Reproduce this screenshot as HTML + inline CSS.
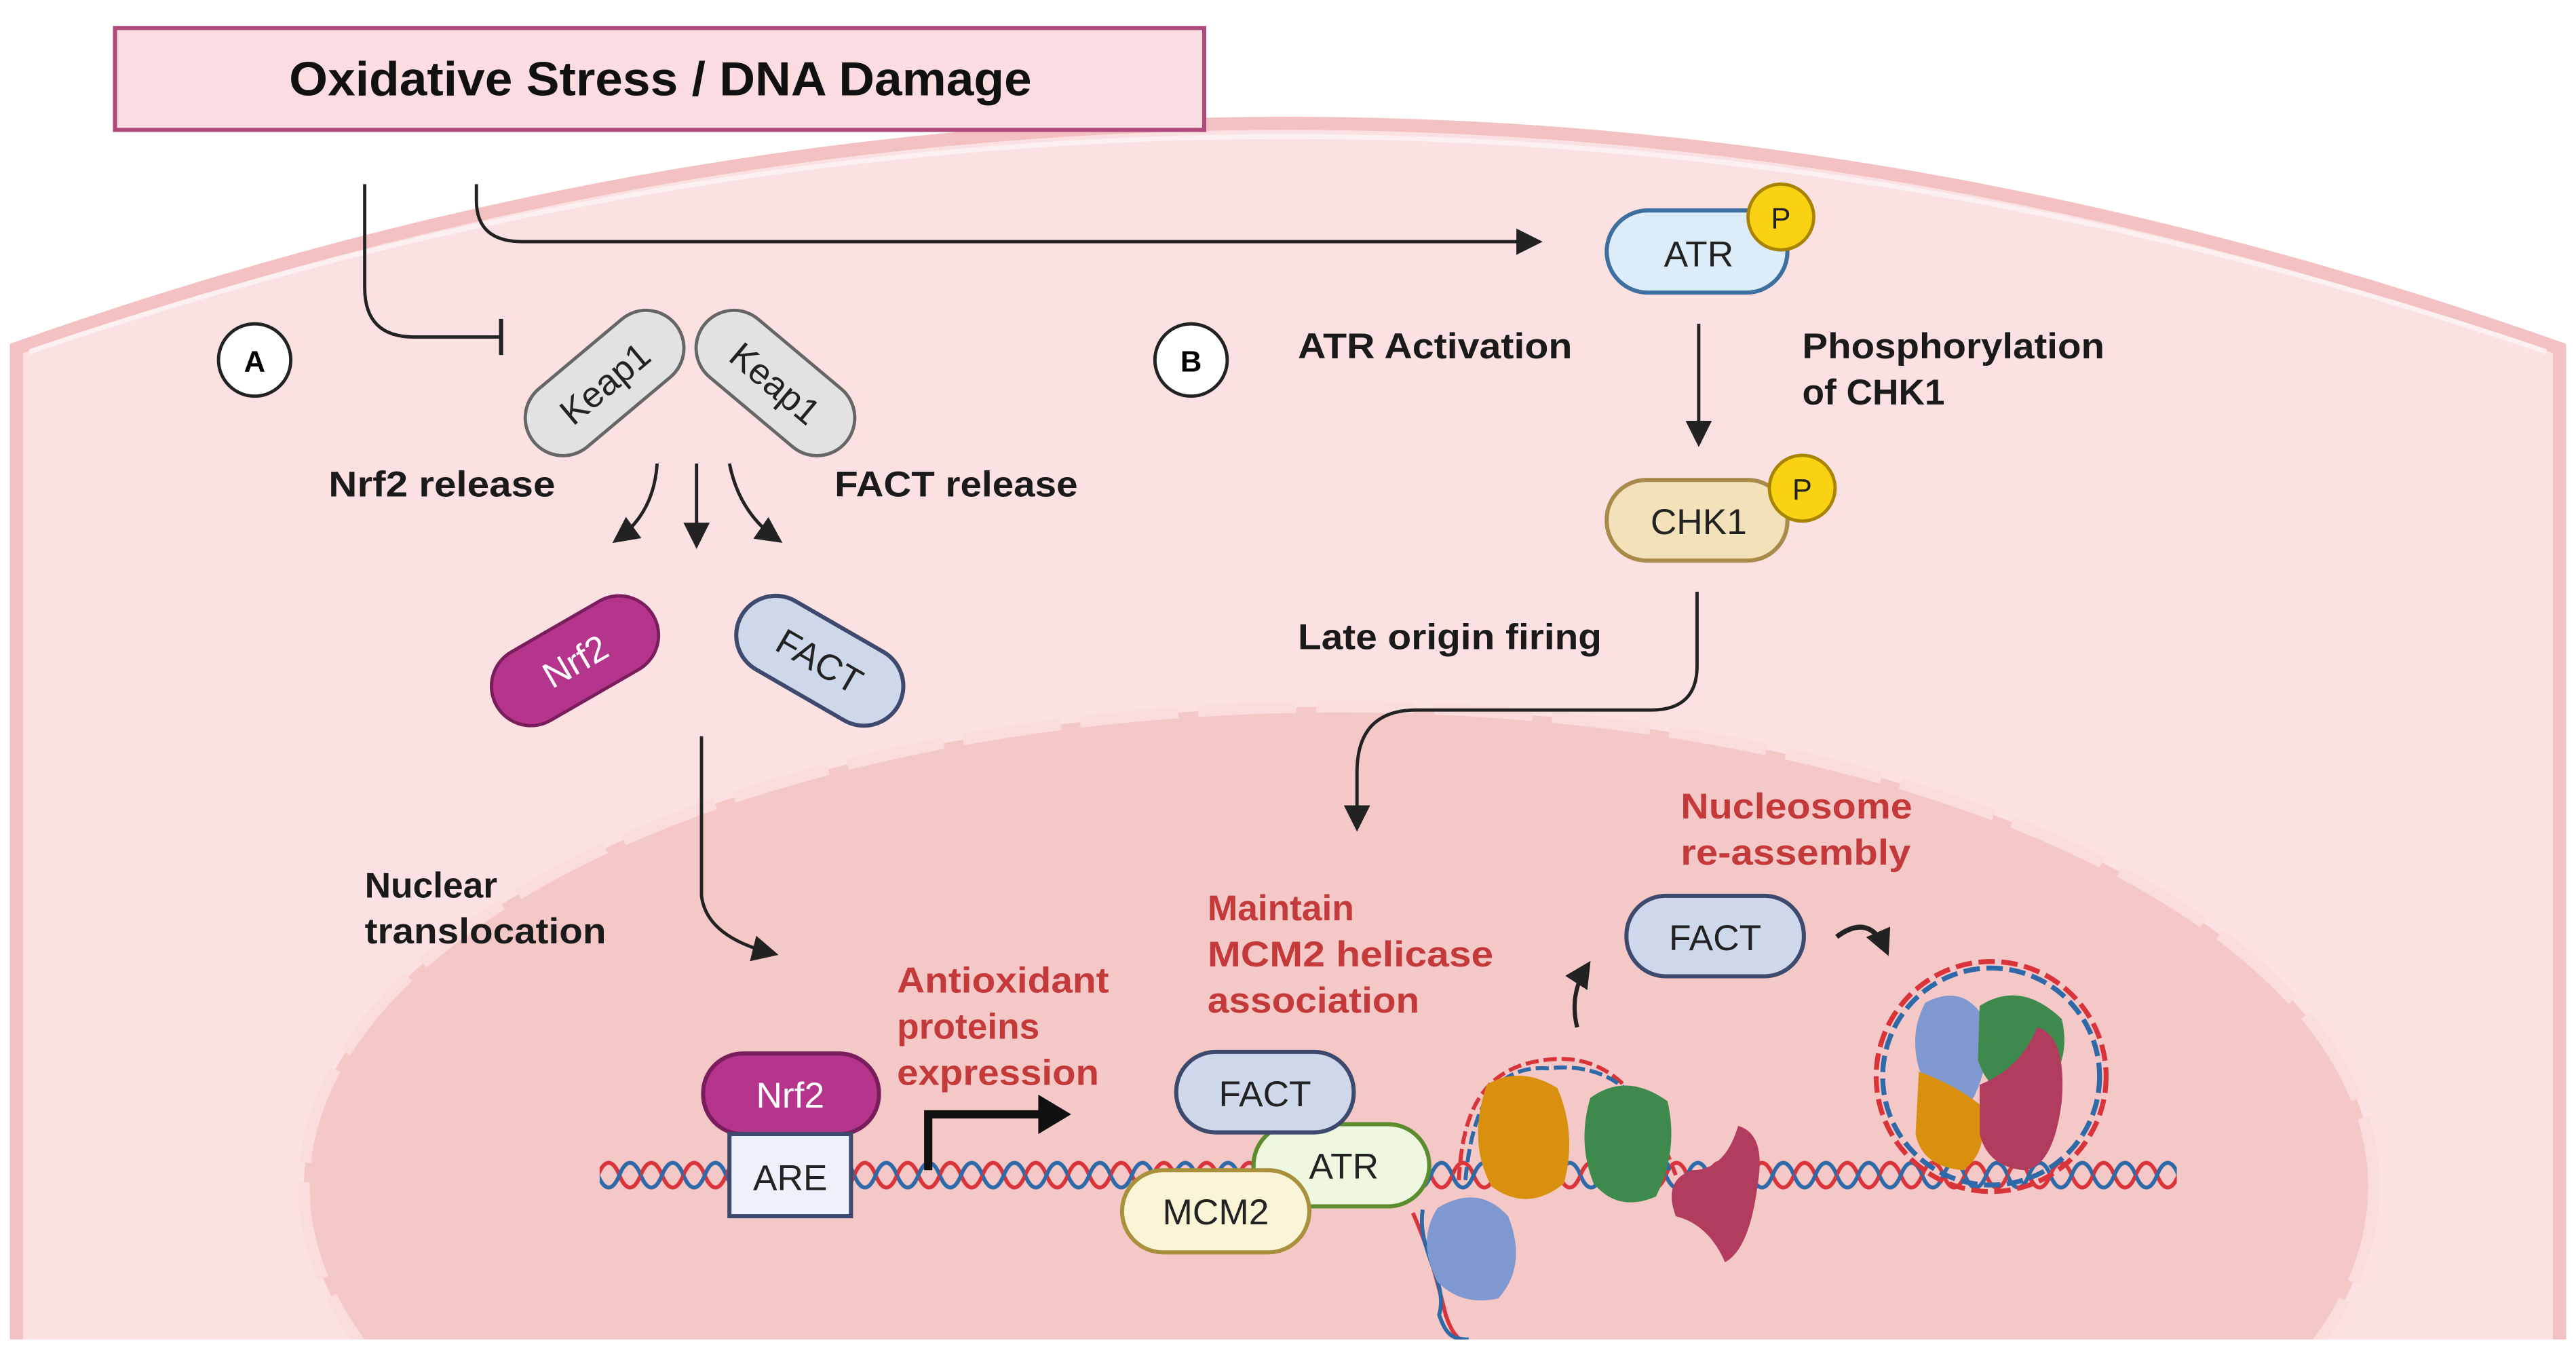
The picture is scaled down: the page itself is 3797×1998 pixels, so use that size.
<!DOCTYPE html>
<html><head><meta charset="utf-8"><style>html,body{margin:0;padding:0;background:#fff;overflow:hidden;width:3797px;height:1998px}svg{display:block}text{font-family:"Liberation Sans",sans-serif}</style></head><body>
<svg width="3797" height="1998" viewBox="0 0 1568 825" xmlns="http://www.w3.org/2000/svg">
<defs>
<pattern id="dna" patternUnits="userSpaceOnUse" x="0" y="705" width="26" height="20">
<path d="M0,10 C4,0 9,0 13,10 C17,20 22,20 26,10" fill="none" stroke="#d8343a" stroke-width="2.4"/>
<path d="M0,10 C4,20 9,20 13,10 C17,0 22,0 26,10" fill="none" stroke="#2e6aa8" stroke-width="2.4"/>
</pattern>
<marker id="ah2" markerWidth="16" markerHeight="16" refX="12" refY="8" orient="auto" markerUnits="userSpaceOnUse"><path d="M0,0 L16,8 L0,16 Z" fill="#222"/></marker>
<clipPath id="cl"><rect x="0" y="0" width="1568" height="815"/></clipPath>
</defs>
<rect width="1568" height="825" fill="#fff"/>
<g clip-path="url(#cl)">
<path d="M10,212 Q784,-62 1558,212 L1558,830 L10,830 Z" fill="#fbe1e1" stroke="#f3c1c1" stroke-width="8"/>
<path d="M18,214 Q784,-48 1550,214" fill="none" stroke="#fdf0f0" stroke-width="3"/>
<ellipse cx="815" cy="722" rx="630" ry="292" fill="#f5c8c8" stroke="#fadcdc" stroke-width="7" stroke-dasharray="60,12"/>
</g>
<rect x="70" y="17" width="663" height="62" fill="#fbdce0" stroke="#b04a7c" stroke-width="2.5"/>
<text x="402" y="58" font-size="29" font-weight="bold" text-anchor="middle" fill="#111" textLength="452" lengthAdjust="spacingAndGlyphs">Oxidative Stress / DNA Damage</text>
<g fill="none" stroke="#222" stroke-width="2">
<path d="M222,112 L222,175 Q222,205 252,205 L305,205"/>
<path d="M305,194 L305,216" stroke-width="2.5"/>
<path d="M290,112 L290,122 Q290,147 318,147 L935,147" marker-end="url(#ah2)"/>
<path d="M400,282 Q398,312 376,328" marker-end="url(#ah2)"/>
<path d="M424,282 L424,330" marker-end="url(#ah2)"/>
<path d="M444,282 Q450,312 473,328" marker-end="url(#ah2)"/>
<path d="M427,448 L427,545 Q430,570 470,580" marker-end="url(#ah2)"/>
<path d="M1034,197 L1034,268" marker-end="url(#ah2)"/>
<path d="M1033,360 L1033,405 Q1033,432 1005,432 L862,432 Q826,432 826,470 L826,502" marker-end="url(#ah2)"/>
<path d="M960,625 Q955,605 966,588" stroke-width="2.5" marker-end="url(#ah2)"/>
<path d="M1118,570 Q1138,555 1148,578" stroke-width="3" marker-end="url(#ah2)"/>
</g>
<circle cx="155" cy="219" r="22" fill="#fff" stroke="#222" stroke-width="2"/>
<text x="155" y="226" font-size="18" font-weight="bold" text-anchor="middle">A</text>
<circle cx="725" cy="219" r="22" fill="#fff" stroke="#222" stroke-width="2"/>
<text x="725" y="226" font-size="18" font-weight="bold" text-anchor="middle">B</text>
<g font-size="22" font-weight="bold" fill="#1a1a1a">
<text x="200" y="302" textLength="138" lengthAdjust="spacingAndGlyphs">Nrf2 release</text>
<text x="508" y="302" textLength="148" lengthAdjust="spacingAndGlyphs">FACT release</text>
<text x="222" y="546">Nuclear</text>
<text x="222" y="574" textLength="147" lengthAdjust="spacingAndGlyphs">translocation</text>
<text x="790" y="218" textLength="167" lengthAdjust="spacingAndGlyphs">ATR Activation</text>
<text x="1097" y="218" textLength="184" lengthAdjust="spacingAndGlyphs">Phosphorylation</text>
<text x="1097" y="246">of CHK1</text>
<text x="790" y="395" textLength="185" lengthAdjust="spacingAndGlyphs">Late origin firing</text>
</g>
<g font-size="22" font-weight="bold" fill="#c43a3a">
<text x="1023" y="498" textLength="141" lengthAdjust="spacingAndGlyphs">Nucleosome</text>
<text x="1023" y="526" textLength="140" lengthAdjust="spacingAndGlyphs">re-assembly</text>
<text x="735" y="560">Maintain</text>
<text x="735" y="588" textLength="174" lengthAdjust="spacingAndGlyphs">MCM2 helicase</text>
<text x="735" y="616" textLength="129" lengthAdjust="spacingAndGlyphs">association</text>
<text x="546" y="604" textLength="129" lengthAdjust="spacingAndGlyphs">Antioxidant</text>
<text x="546" y="632">proteins</text>
<text x="546" y="660" textLength="123" lengthAdjust="spacingAndGlyphs">expression</text>
</g>
<g transform="translate(368,233) rotate(-40)"><rect x="-56" y="-23" width="112" height="46" rx="23" fill="#e2e2e2" stroke="#666" stroke-width="2"/><text y="8" font-size="22" text-anchor="middle" fill="#222">Keap1</text></g>
<g transform="translate(472,233) rotate(40)"><rect x="-56" y="-23" width="112" height="46" rx="23" fill="#e2e2e2" stroke="#666" stroke-width="2"/><text y="8" font-size="22" text-anchor="middle" fill="#222">Keap1</text></g>
<g transform="translate(350,402) rotate(-30)"><rect x="-55" y="-24" width="110" height="48" rx="24" fill="#b5348c" stroke="#7a1d5c" stroke-width="2"/><text y="8" font-size="22" text-anchor="middle" fill="#fff">Nrf2</text></g>
<g transform="translate(499,402) rotate(30)"><rect x="-55" y="-24" width="110" height="48" rx="24" fill="#cfd8ea" stroke="#3d4a6e" stroke-width="2.5"/><text y="8" font-size="22" text-anchor="middle" fill="#222">FACT</text></g>
<rect x="978" y="128" width="110" height="50" rx="25" fill="#dcecf8" stroke="#3d6fa0" stroke-width="2.5"/>
<text x="1034" y="162" font-size="22" text-anchor="middle" fill="#222">ATR</text>
<circle cx="1084" cy="132" r="20" fill="#f9d313" stroke="#a88400" stroke-width="2"/>
<text x="1084" y="139" font-size="18" text-anchor="middle" fill="#222">P</text>
<rect x="978" y="292" width="110" height="49" rx="24" fill="#f3e2b9" stroke="#a88a4a" stroke-width="2.5"/>
<text x="1034" y="325" font-size="22" text-anchor="middle" fill="#222">CHK1</text>
<circle cx="1097" cy="297" r="20" fill="#f9d313" stroke="#a88400" stroke-width="2"/>
<text x="1097" y="304" font-size="18" text-anchor="middle" fill="#222">P</text>
<rect x="365" y="705" width="960" height="20" fill="url(#dna)"/>
<g fill="none" stroke-width="2.4" clip-path="url(#cl)">
<path d="M860,738 C870,760 875,780 880,800 C884,812 888,815 890,815" stroke="#d8343a"/>
<path d="M866,736 C862,760 882,780 876,800 C880,812 884,815 894,815" stroke="#2e6aa8"/>
<path d="M888,718 C890,680 900,650 940,645 C975,640 1000,660 1020,715" stroke="#d8343a" stroke-dasharray="8,3"/>
<path d="M892,718 C896,676 908,648 942,650 C978,646 1004,664 1016,712" stroke="#2e6aa8" stroke-dasharray="8,3"/>
<circle cx="1212" cy="655" r="70" stroke="#d8343a" stroke-width="3" stroke-dasharray="10,4"/>
<circle cx="1212" cy="655" r="66" stroke="#2e6aa8" stroke-width="3" stroke-dasharray="10,4"/>
</g>
<path d="M905,660 Q925,648 948,662 Q960,690 952,720 Q930,738 908,722 Q893,695 905,660Z" fill="#d9900f"/>
<path d="M968,668 Q990,652 1015,670 Q1022,700 1008,728 Q985,738 970,720 Q960,695 968,668Z" fill="#3e8a4c"/>
<path d="M1058,685 Q1075,690 1070,720 Q1065,760 1050,768 Q1040,745 1020,740 Q1012,718 1030,712 Q1050,712 1058,685Z" fill="#b23c5e"/>
<path d="M875,735 Q900,720 918,740 Q930,770 912,790 Q890,795 875,780 Q862,755 875,735Z" fill="#7f98d0"/>
<path d="M1172,610 Q1195,598 1208,620 Q1212,650 1200,670 Q1178,672 1168,650 Q1162,628 1172,610Z" fill="#7f98d0"/>
<path d="M1205,612 Q1230,596 1255,620 Q1262,650 1238,668 Q1212,670 1204,645Z" fill="#3e8a4c"/>
<path d="M1168,652 Q1190,660 1205,672 Q1212,700 1195,712 Q1170,710 1166,690Z" fill="#d9900f"/>
<path d="M1205,660 Q1230,650 1240,625 Q1258,630 1255,670 Q1250,710 1232,712 Q1210,710 1205,690Z" fill="#b23c5e"/>
<rect x="428" y="641" width="107" height="49" rx="24" fill="#b5348c" stroke="#7a1d5c" stroke-width="2.5"/>
<text x="481" y="674" font-size="22" text-anchor="middle" fill="#fff">Nrf2</text>
<rect x="444" y="690" width="74" height="50" fill="#eef0fb" stroke="#3d4a6e" stroke-width="2.5"/>
<text x="481" y="724" font-size="22" text-anchor="middle" fill="#222">ARE</text>
<path d="M565,712 L565,678 L636,678" fill="none" stroke="#111" stroke-width="5"/>
<path d="M632,666 L652,678 L632,690 Z" fill="#111"/>
<rect x="763" y="684" width="107" height="50" rx="25" fill="#eef8e0" stroke="#5b8c2e" stroke-width="2.5"/>
<text x="818" y="717" font-size="22" text-anchor="middle" fill="#222">ATR</text>
<rect x="716" y="640" width="108" height="49" rx="24" fill="#cfd8ea" stroke="#3d4a6e" stroke-width="2.5"/>
<text x="770" y="673" font-size="22" text-anchor="middle" fill="#222">FACT</text>
<rect x="683" y="712" width="114" height="50" rx="25" fill="#fbf5d8" stroke="#a8913a" stroke-width="2.5"/>
<text x="740" y="745" font-size="22" text-anchor="middle" fill="#222">MCM2</text>
<rect x="990" y="545" width="108" height="49" rx="24" fill="#cfd8ea" stroke="#3d4a6e" stroke-width="2.5"/>
<text x="1044" y="578" font-size="22" text-anchor="middle" fill="#222">FACT</text>
</svg>
</body></html>
